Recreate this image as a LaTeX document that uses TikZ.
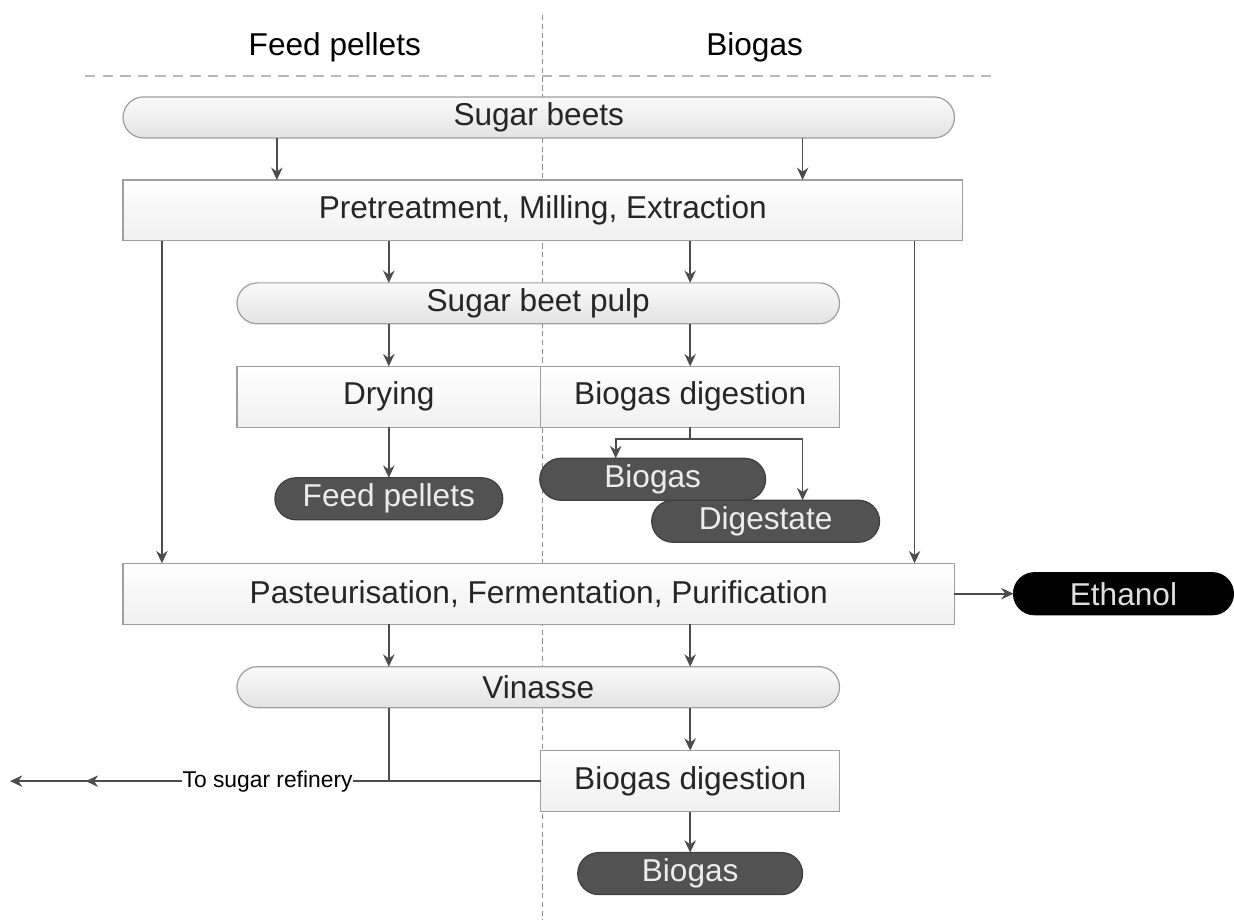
\documentclass[tikz,border=0pt]{standalone}
\usepackage{fontspec}
\setmainfont{Liberation Sans}
\usetikzlibrary{positioning, calc, arrows.meta, decorations.markings}

\begin{document}
\begin{tikzpicture}[x=0.02cm, y=-0.02cm,
    font=\fontsize{18}{21}\selectfont]

  \tikzset{nbase/.style={inner sep=0, outer sep=0, line width=0.7pt, text=black!85}}
  \tikzset{box/.style={nbase, draw=gray!75, top color=white, bottom color=gray!12, minimum height=1.22cm}}
  \tikzset{pill/.style={nbase, draw=gray!75, top color=gray!4, bottom color=gray!22, rounded corners=0.41cm, minimum height=0.82cm}}
  \tikzset{darkpill/.style={nbase, draw=black!75, fill=black!68, text=gray!15, rounded corners=0.42cm, minimum height=0.84cm}}
  \tikzset{blackpill/.style={darkpill, draw=black, fill=black, text=gray!25}}
  \tikzset{flow/.style={line width=1pt, draw=black!70, ->, >={Stealth[length=7pt, width=6.5pt]}}}
  \tikzset{link/.style={flow, -}}
  \tikzset{midtip/.style={postaction={decorate}, decoration={markings, mark=at position 0.8 with {\arrow{>}}}}}
  \tikzset{refl/.style={font=\fontsize{13}{15}\selectfont, fill=white, inner sep=0.5pt, text=black}}
  \tikzset{sepv/.style={draw=gray!90, line width=0.6pt, dash pattern=on 3pt off 2pt}}
  \tikzset{seph/.style={draw=gray!55, line width=1pt, dash pattern=on 6pt off 4pt}}

  \fill[white] (0,0) rectangle (1234,920);

  % lanes
  \draw[sepv] (543,15) -- (543,920);
  \draw[seph] (85,76) -- (995,76);
  \node (hfeed) at (335,47) {Feed pellets};
  \node (hbio) at (755,47) {Biogas};

  % process
  \node[pill, minimum width=16.64cm] (sbeets) at (539,117.5) {Sugar beets};
  \node[box, minimum width=16.8cm] (pretreat) at (543,210.5) {Pretreatment, Milling, Extraction};
  \node[pill, minimum width=12.06cm] (pulp) at (538.5,303.5) {Sugar beet pulp};
  \node[box, minimum width=6.08cm] (drying) at (389,397) {Drying};
  \node[box, minimum width=5.98cm] (bdig) at (690.5,397) {Biogas digestion};
  \node[darkpill, minimum width=4.56cm] (fpellets) at (389,499) {Feed pellets};
  \node[darkpill, minimum width=4.52cm] (biogas) at (653,479.5) {Biogas};
  \node[darkpill, minimum width=4.56cm] (digest) at (766,521.5) {Digestate};
  \node[box, minimum width=16.64cm] (pasteur) at (539,594) {Pasteurisation, Fermentation, Purification};
  \node[blackpill, minimum width=4.4cm] (ethanol) at (1124,594) {Ethanol};
  \node[pill, minimum width=12.06cm] (vinasse) at (538.5,687.5) {Vinasse};
  \node[box, minimum width=5.98cm] (bdig2) at (690.5,781.5) {Biogas digestion};
  \node[darkpill, minimum width=4.5cm] (biogas2) at (690.5,874) {Biogas};

  \coordinate (lcol) at (277,0);
  \coordinate (rcol) at (803,0);
  \coordinate (lside) at (162,0);
  \coordinate (rside) at (915,0);

  % flows
  \draw[flow] (sbeets.south -| lcol) -- (pretreat.north -| lcol);
  \draw[flow] (sbeets.south -| rcol) -- (pretreat.north -| rcol);
  \draw[flow] (pretreat.south -| lside) -- (pasteur.north -| lside);
  \draw[flow] (pretreat.south -| rside) -- (pasteur.north -| rside);
  \draw[flow] (pretreat.south -| drying) -- (pulp.north -| drying);
  \draw[flow] (pretreat.south -| bdig) -- (pulp.north -| bdig);
  \draw[flow] (pulp.south -| drying) -- (drying.north);
  \draw[flow] (pulp.south -| bdig) -- (bdig.north);
  \draw[flow] (drying.south) -- (fpellets.north);

  \coordinate (split) at ($(bdig.south)+(0,12)$);
  \coordinate (bgin) at ($(biogas.north)+(-37,0)$);
  \draw[link] (bdig.south) -- (split);
  \draw[flow] (split) -| (bgin);
  \draw[flow] (split) -| (digest.north -| rcol);

  \draw[flow] (pasteur.east) -- (ethanol.west);
  \draw[flow] (pasteur.south -| drying) -- (vinasse.north -| drying);
  \draw[flow] (pasteur.south -| bdig) -- (vinasse.north -| bdig);
  \draw[flow] (vinasse.south -| bdig) -- (bdig2.north);
  \draw[flow] (bdig2.south) -- (biogas2.north);

  % to refinery
  \coordinate (join) at (bdig2.west -| drying);
  \coordinate (refinery) at (10,781.5);
  \draw[link] (vinasse.south -| join) -- (join);
  \draw[link] (bdig2.west) -- (join);
  \draw[flow, midtip] (join) -- node[refl, pos=0.32] {To sugar refinery} (refinery);
\end{tikzpicture}
\end{document}
